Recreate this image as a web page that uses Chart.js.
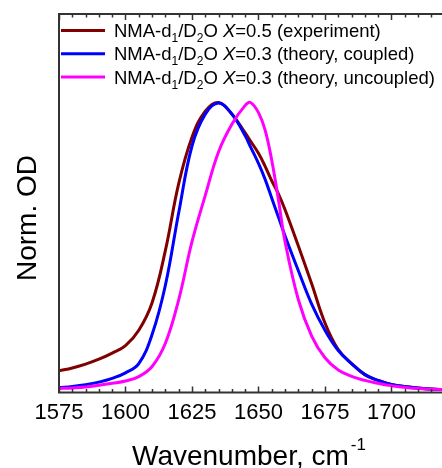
<!DOCTYPE html>
<html>
<head>
<meta charset="utf-8">
<script src="https://cdn.jsdelivr.net/npm/chart.js@4"></script>
<style>
  html, body { margin: 0; padding: 0; background: #fff; }
  #wrap { width: 442px; height: 468px; }
</style>
</head>
<body>
<div id="wrap"><canvas id="chart" width="442" height="468"></canvas></div>
<script>
// wavenumber grid, cm-1
const wavenumbers = [1575, 1580, 1585, 1590, 1595, 1600, 1605, 1610, 1615, 1620, 1625, 1630, 1635, 1640, 1645, 1647, 1650, 1652.5, 1655, 1657.5, 1660, 1665, 1670, 1675, 1680, 1685, 1690, 1695, 1700, 1710, 1720];
const experiment = [0.075, 0.085, 0.098, 0.115, 0.136, 0.162, 0.215, 0.31, 0.49, 0.72, 0.88, 0.97, 1.0, 0.96, 0.895, 0.867, 0.825, 0.78, 0.73, 0.685, 0.63, 0.505, 0.375, 0.24, 0.148, 0.1, 0.062, 0.042, 0.028, 0.016, 0.01];
const coupled = [0.017, 0.021, 0.027, 0.036, 0.049, 0.068, 0.1, 0.2, 0.37, 0.62, 0.85, 0.96, 0.998, 0.96, 0.885, 0.847, 0.79, 0.735, 0.67, 0.605, 0.54, 0.42, 0.305, 0.215, 0.145, 0.1, 0.062, 0.042, 0.028, 0.016, 0.01];
const uncoupled = [0.014, 0.016, 0.019, 0.025, 0.032, 0.04, 0.055, 0.09, 0.17, 0.32, 0.52, 0.68, 0.83, 0.925, 0.99, 1.0, 0.965, 0.905, 0.8, 0.665, 0.52, 0.32, 0.195, 0.12, 0.078, 0.056, 0.042, 0.032, 0.024, 0.014, 0.01];
const xTicks = [1575, 1600, 1625, 1650, 1675, 1700];

const legendRows = [
  { color: '#800000', x: '0.5', note: '(experiment)' },
  { color: '#0000ff', x: '0.3', note: '(theory, coupled)' },
  { color: '#ff00ff', x: '0.3', note: '(theory, uncoupled)' }
];

function pts(vals) {
  return wavenumbers.map((w, i) => ({ x: w, y: vals[i] }));
}

const FONT = '"Liberation Sans", Arial, sans-serif';

// axes box, inward ticks, legend and titles
const decor = {
  id: 'decor',
  afterDraw(chart) {
    const ctx = chart.ctx;
    const a = chart.chartArea;
    const xs = chart.scales.x;
    ctx.save();
    ctx.strokeStyle = '#333';
    ctx.lineWidth = 2;
    ctx.beginPath();
    ctx.moveTo(chart.width + 2, a.top);
    ctx.lineTo(a.left, a.top);
    ctx.lineTo(a.left, a.bottom);
    ctx.lineTo(chart.width + 2, a.bottom);
    ctx.stroke();

    ctx.lineWidth = 1.5;
    for (let w = 1575; w <= 1720; w += 5) {
      const px = Math.round(xs.getPixelForValue(w)) + 0.5;
      if (px > chart.width) break;
      const len = (w % 25 === 0) ? 6 : 3.5;
      ctx.beginPath();
      ctx.moveTo(px, a.bottom);
      ctx.lineTo(px, a.bottom - len);
      ctx.moveTo(px, a.top);
      ctx.lineTo(px, a.top + len);
      ctx.stroke();
    }

    // legend
    ctx.textBaseline = 'alphabetic';
    legendRows.forEach((r, i) => {
      const ly = a.top + 16.5 + i * 23.3;
      ctx.strokeStyle = r.color;
      ctx.lineWidth = 3;
      ctx.beginPath();
      ctx.moveTo(a.left + 2, ly);
      ctx.lineTo(a.left + 46, ly);
      ctx.stroke();
      let tx = a.left + 55;
      const by = ly + 6.5;
      ctx.fillStyle = '#000';
      const parts = [
        ['NMA-d', 18.5, 0, ''],
        ['1', 12, 5, ''],
        ['/D', 18.5, 0, ''],
        ['2', 12, 5, ''],
        ['O ', 18.5, 0, ''],
        ['X', 18.5, 0, 'italic '],
        ['=' + r.x + ' ' + r.note, 18.5, 0, '']
      ];
      parts.forEach(p => {
        ctx.font = p[3] + p[1] + 'px ' + FONT;
        ctx.fillText(p[0], tx, by + p[2]);
        tx += ctx.measureText(p[0]).width;
      });
    });

    // axis titles
    ctx.fillStyle = '#000';
    ctx.font = '28px ' + FONT;
    ctx.textAlign = 'left';
    const t = 'Wavenumber, cm';
    const tw = ctx.measureText(t).width;
    const tx0 = 132;
    ctx.fillText(t, tx0, 465);
    ctx.font = '17px ' + FONT;
    ctx.fillText('-1', tx0 + tw + 2, 450);

    ctx.save();
    ctx.translate(36, 218);
    ctx.rotate(-Math.PI / 2);
    ctx.font = '28px ' + FONT;
    ctx.textAlign = 'center';
    ctx.fillText('Norm. OD', 0, 0);
    ctx.restore();
    ctx.restore();
  }
};

new Chart(document.getElementById('chart'), {
  type: 'line',
  data: {
    datasets: [
      { label: 'uncoupled', data: pts(uncoupled), borderColor: '#ff00ff', order: 1 },
      { label: 'coupled', data: pts(coupled), borderColor: '#0000ff', order: 2 },
      { label: 'experiment', data: pts(experiment), borderColor: '#800000', order: 3 }
    ]
  },
  options: {
    responsive: false,
    animation: false,
    events: [],
    layout: { padding: { left: 59, top: 14, right: 0, bottom: 35 } },
    elements: {
      point: { radius: 0 },
      line: { borderWidth: 3, tension: 0.4, fill: false }
    },
    plugins: { legend: { display: false }, tooltip: { enabled: false } },
    scales: {
      x: {
        type: 'linear',
        min: 1575,
        max: 1719,
        grid: { display: false, drawTicks: false },
        border: { display: false },
        afterBuildTicks: s => { s.ticks = xTicks.map(v => ({ value: v })); },
        ticks: {
          padding: 7,
          autoSkip: false,
          maxRotation: 0,
          color: '#000',
          font: { family: FONT, size: 22 },
          callback: v => String(v)
        }
      },
      y: {
        display: false,
        min: 0,
        max: 1.305
      }
    }
  },
  plugins: [decor]
});
</script>
</body>
</html>
